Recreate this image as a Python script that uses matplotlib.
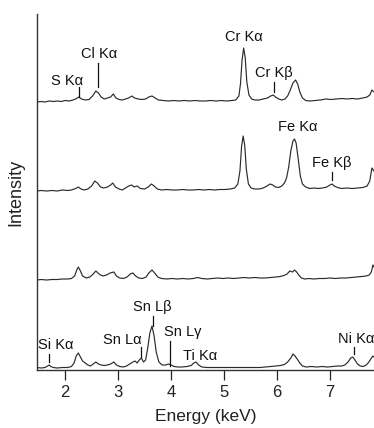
import numpy as np
import matplotlib
matplotlib.use("Agg")
import matplotlib.pyplot as plt

plt.rcParams['font.family'] = ['Liberation Sans', 'DejaVu Sans']

# energy (keV) / intensity (arb., above each trace's own baseline)
e1 = [1.47, 1.55, 1.62, 1.70, 1.78, 1.85, 1.93, 2.00, 2.08, 2.15, 2.20, 2.26, 2.31, 2.38, 2.45,
      2.52, 2.58, 2.63, 2.68, 2.74, 2.80, 2.86, 2.91, 2.96, 3.02, 3.08, 3.14, 3.20, 3.26, 3.31,
      3.38, 3.45, 3.52, 3.58, 3.64, 3.70, 3.76, 3.85, 3.95, 4.05, 4.15, 4.25, 4.35, 4.45, 4.55,
      4.65, 4.75, 4.85, 4.95, 5.05, 5.15, 5.22, 5.28, 5.31, 5.34, 5.37, 5.40, 5.43, 5.47, 5.52,
      5.58, 5.66, 5.74, 5.82, 5.88, 5.93, 5.97, 6.03, 6.09, 6.15, 6.20, 6.25, 6.30, 6.35, 6.39,
      6.43, 6.48, 6.54, 6.62, 6.72, 6.82, 6.92, 7.02, 7.12, 7.22, 7.32, 7.42, 7.52, 7.62, 7.70,
      7.75, 7.79, 7.83]
i1 = [0, 0.5, 0, 1, 0.5, 1, 0.5, 1.5, 1, 2, 3, 5, 3, 2, 2.5,
      6, 11, 9, 5, 3, 4, 5, 8, 4, 2.5, 2, 3, 4, 6, 4,
      3, 2.5, 3, 5, 6, 4, 2, 1.5, 1, 1.5, 1, 1.5, 1, 1.5, 1,
      1, 1.5, 1, 1.5, 1, 1.5, 2, 6, 18, 42, 54, 44, 20, 7, 3,
      2, 2, 3, 4, 6, 7, 5, 3, 2, 3, 6, 12, 19, 22, 18,
      10, 4, 1.5, 1, 1.5, 2, 3, 2.5, 3, 3.5, 3, 3.5, 3, 4, 5,
      7, 12, 10]

e2 = [1.47, 1.55, 1.65, 1.75, 1.85, 1.95, 2.05, 2.12, 2.20, 2.25, 2.30, 2.36, 2.43, 2.50, 2.56,
      2.61, 2.67, 2.73, 2.80, 2.86, 2.90, 2.95, 3.02, 3.08, 3.14, 3.20, 3.26, 3.30, 3.36, 3.42,
      3.50, 3.57, 3.63, 3.68, 3.74, 3.82, 3.92, 4.02, 4.12, 4.22, 4.32, 4.42, 4.52, 4.62, 4.72,
      4.82, 4.92, 5.02, 5.12, 5.20, 5.26, 5.30, 5.33, 5.36, 5.39, 5.42, 5.46, 5.51, 5.58, 5.66,
      5.74, 5.81, 5.87, 5.92, 5.97, 6.03, 6.09, 6.14, 6.18, 6.22, 6.26, 6.30, 6.33, 6.36, 6.40,
      6.44, 6.48, 6.54, 6.62, 6.70, 6.78, 6.86, 6.94, 7.00, 7.04, 7.08, 7.14, 7.22, 7.32, 7.42,
      7.52, 7.62, 7.70, 7.75, 7.79, 7.83]
i2 = [0, 0.5, 0, 0.5, 0, 1, 0.5, 1, 2.5, 4, 2, 1, 2, 5, 10,
      8, 4, 3, 4, 6, 8, 4, 2, 1, 3, 5, 6, 4, 5, 2.5,
      2, 4, 7, 5, 2, 1, 1.5, 1, 1, 1.5, 1, 1, 1.5, 1, 1.5,
      1, 1.5, 1.5, 2, 3, 7, 20, 44, 55, 46, 22, 7, 3, 2, 2,
      3, 5, 7, 6, 4, 3.5, 5, 8, 13, 24, 40, 50, 52, 48, 32,
      15, 7, 4, 2.5, 3, 2.5, 3, 4, 6, 7, 5, 3.5, 2.5, 3, 2.5,
      3, 3.5, 5, 10, 23, 20]

e3 = [1.47, 1.55, 1.65, 1.75, 1.85, 1.95, 2.05, 2.12, 2.18, 2.22, 2.25, 2.29, 2.33, 2.40, 2.47,
      2.53, 2.58, 2.62, 2.67, 2.72, 2.78, 2.85, 2.92, 2.97, 3.03, 3.10, 3.17, 3.23, 3.28, 3.33,
      3.39, 3.46, 3.53, 3.58, 3.64, 3.69, 3.75, 3.82, 3.92, 4.02, 4.12, 4.22, 4.32, 4.42, 4.50,
      4.58, 4.68, 4.78, 4.88, 4.98, 5.08, 5.18, 5.28, 5.38, 5.48, 5.58, 5.68, 5.78, 5.88, 5.98,
      6.06, 6.13, 6.19, 6.24, 6.29, 6.33, 6.37, 6.41, 6.46, 6.52, 6.60, 6.70, 6.80, 6.90, 7.00,
      7.10, 7.20, 7.30, 7.40, 7.50, 7.60, 7.68, 7.74, 7.78, 7.81, 7.83]
i3 = [0, 0.5, 0, 0.5, 0.5, 1, 1, 1.5, 4, 10, 13, 9, 4, 2, 3,
      6, 9, 7, 5, 4, 5, 7, 8, 4, 2, 1.5, 3, 6, 7, 4,
      2, 1.5, 3, 7, 10, 7, 3, 1.5, 1, 1.5, 1, 1.5, 1, 1.5, 2.5,
      1.5, 1, 1.5, 2, 1.5, 2, 1.5, 2, 2.5, 2, 2.5, 2, 2, 2.5, 3,
      3.5, 4.5, 6, 9, 8, 10, 8, 5, 2, 1, 1.5, 1, 1.5, 1.5, 2,
      1.5, 2, 2, 2.5, 3, 3.5, 4, 5, 8, 15, 13]

e4 = [1.47, 1.55, 1.62, 1.67, 1.70, 1.73, 1.78, 1.85, 1.95, 2.05, 2.12, 2.17, 2.21, 2.25, 2.29,
      2.33, 2.38, 2.43, 2.48, 2.53, 2.58, 2.63, 2.68, 2.74, 2.80, 2.86, 2.92, 2.97, 3.03, 3.10,
      3.16, 3.22, 3.28, 3.32, 3.36, 3.40, 3.44, 3.48, 3.52, 3.56, 3.60, 3.64, 3.68, 3.72, 3.77,
      3.83, 3.90, 3.95, 4.00, 4.06, 4.12, 4.20, 4.30, 4.38, 4.43, 4.47, 4.52, 4.58, 4.68, 4.78,
      4.88, 4.98, 5.08, 5.18, 5.28, 5.38, 5.48, 5.58, 5.68, 5.78, 5.88, 5.98, 6.06, 6.14, 6.20,
      6.26, 6.30, 6.34, 6.38, 6.43, 6.48, 6.55, 6.65, 6.75, 6.85, 6.95, 7.05, 7.15, 7.22, 7.28,
      7.34, 7.39, 7.43, 7.47, 7.52, 7.57, 7.62, 7.67, 7.72, 7.77, 7.81, 7.83]
i4 = [0.5, 0, 0.5, 2, 3, 1.5, 0.5, 0, 0.5, 0.5, 1.5, 5, 12, 15, 11,
      7, 5, 3, 2, 4, 6, 4, 3, 2.5, 3, 4, 6, 3, 1.5, 1,
      2, 4, 6, 7, 5, 8, 10, 6, 8, 20, 35, 42, 32, 16, 6,
      3, 3, 4, 3, 1.5, 1, 1, 1.5, 2.5, 5, 6, 3, 1, 0.5, 0.5,
      0.5, 0.5, 0.5, 0.5, 0.5, 0.5, 0.5, 0.5, 0.5, 1, 1.5, 2, 2.5, 3.5, 6,
      10, 14, 12, 9, 5, 2, 1, 1.5, 1, 1.5, 1, 1.5, 2, 2, 3,
      6, 10, 11, 8, 4, 2, 1.5, 2.5, 5, 9, 12, 11]

energies = [e1, e2, e3, e4]
intensities = [i1, i2, i3, i4]
offsets = [268, 179, 90, 2]

# peak labels and their short marker lines (None = no marker)
labels = ["S Kα", "Cl Kα", "Cr Kα", "Cr Kβ", "Fe Kα", "Fe Kβ",
          "Si Kα", "Sn Lα", "Sn Lβ", "Sn Lγ", "Ti Kα", "Ni Kα"]
label_x = [2.04, 2.64, 5.38, 5.94, 6.40, 7.04, 1.83, 3.08, 3.64, 3.87, 4.23, 7.15]
label_y = [289, 316, 333, 297, 243, 207, 25, 30, 63, 38, 14, 31]
label_ha = ["center", "center", "center", "center", "center", "center",
            "center", "center", "center", "left", "left", "left"]
mark_x = [2.26, 2.62, None, 5.94, None, 7.04, 1.70, 3.43, 3.66, 3.98, None, 7.45]
mark_y0 = [273, 283, None, 278, None, 190, 8, 13, 44, 4, None, 16]
mark_y1 = [283, 307, None, 288, None, 198, 16, 23, 54, 29, None, 23]

fig = plt.figure(figsize=(3.74, 4.28), dpi=100)
ax = fig.add_axes([37 / 374, 58 / 428, 1 - 37 / 374, 356 / 428])

for e, inten, off in zip(energies, intensities, offsets):
    ax.plot(e, np.array(inten) + off, color='#2b2b2b', lw=0.85)

for k in range(len(labels)):
    ax.text(label_x[k], label_y[k], labels[k], ha=label_ha[k], va='center',
            fontsize=10.5, color='#111111')
    if mark_x[k] is not None:
        ax.plot([mark_x[k], mark_x[k]], [mark_y0[k], mark_y1[k]], color='#111111', lw=0.9)

ax.set_xlim(1.47, 7.83)
ax.set_ylim(0, 356)
ax.set_xticks([2, 3, 4, 5, 6, 7])
ax.set_yticks([])
ax.tick_params(axis='x', direction='out', length=7, width=0.9, pad=4, labelsize=12,
               colors='#222222')
for s in ['top', 'right']:
    ax.spines[s].set_visible(False)
for s in ['left', 'bottom']:
    ax.spines[s].set_color('#333333')
    ax.spines[s].set_linewidth(1.0)
ax.set_xlabel('Energy (keV)', fontsize=12.5, labelpad=6, color='#222222')
ax.set_ylabel('Intensity', fontsize=13, labelpad=9, color='#222222')

fig.savefig('out.png', dpi=100)
